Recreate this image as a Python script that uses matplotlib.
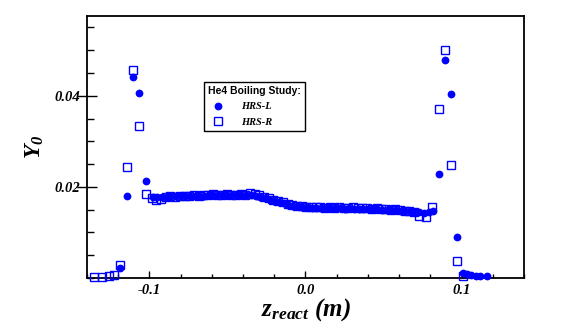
import matplotlib.pyplot as plt
from matplotlib.ticker import MultipleLocator, FixedLocator

plt.rcParams['mathtext.fontset'] = 'custom'
plt.rcParams['mathtext.it'] = 'Liberation Serif:italic:bold'
plt.rcParams['mathtext.bf'] = 'Liberation Serif:italic:bold'
plt.rcParams['mathtext.rm'] = 'Liberation Serif:italic:bold'

# HRS-L (filled circles)
z_left = [-0.1186, -0.1143, -0.1107, -0.1064, -0.1024,
          -0.098, -0.095, -0.092, -0.089, -0.086, -0.083, -0.080, -0.077, -0.074, -0.071,
          -0.068, -0.065, -0.062, -0.059, -0.056, -0.053, -0.050, -0.047, -0.044, -0.041,
          -0.038, -0.035, -0.032, -0.029, -0.026, -0.023, -0.020, -0.017, -0.014, -0.011,
          -0.008, -0.005, -0.002, 0.001, 0.004, 0.007, 0.010, 0.013, 0.016, 0.019,
          0.022, 0.025, 0.028, 0.031, 0.034, 0.037, 0.040, 0.043, 0.046, 0.049,
          0.052, 0.055, 0.058, 0.061, 0.064, 0.067, 0.070, 0.073, 0.076, 0.079, 0.082,
          0.0853, 0.0893, 0.0932, 0.0972, 0.1009, 0.1035, 0.106, 0.109, 0.112, 0.1165]
y_left = [0.0023, 0.0179, 0.0442, 0.0406, 0.0214,
          0.0177, 0.0178, 0.0178, 0.0178, 0.0179, 0.0179, 0.0179, 0.0180, 0.0180, 0.0180,
          0.0181, 0.0181, 0.0182, 0.0182, 0.0182, 0.0183, 0.0183, 0.0182, 0.0183, 0.0183,
          0.0183, 0.0182, 0.0180, 0.0178, 0.0175, 0.0172, 0.0169, 0.0166, 0.0164, 0.0161,
          0.0159, 0.0157, 0.0156, 0.0155, 0.0154, 0.0154, 0.0153, 0.0153, 0.0154, 0.0153,
          0.0153, 0.0152, 0.0153, 0.0152, 0.0152, 0.0152, 0.0151, 0.0151, 0.0151, 0.0150,
          0.0150, 0.0149, 0.0149, 0.0148, 0.0147, 0.0146, 0.0145, 0.0144, 0.0143, 0.0145, 0.0147,
          0.0229, 0.0478, 0.0404, 0.0089, 0.0012, 0.0008, 0.0006, 0.0005, 0.0004, 0.0004]

# HRS-R (open squares)
z_right = [-0.1353, -0.1303, -0.1261, -0.1224, -0.1186, -0.1143, -0.1107, -0.1064, -0.1024,
           -0.0985, -0.0955, -0.0925, -0.0895, -0.0865, -0.0835, -0.0805, -0.0775, -0.0745,
           -0.0715, -0.0685, -0.0655, -0.0625, -0.0595, -0.0565, -0.0535, -0.0505, -0.0475,
           -0.0445, -0.0415, -0.0385, -0.0355, -0.0325, -0.0295, -0.0265, -0.0235, -0.0205,
           -0.0175, -0.0145, -0.0115, -0.0085, -0.0055, -0.0025, 0.0005, 0.0035, 0.0065,
           0.0095, 0.0125, 0.0155, 0.0185, 0.0215, 0.0245, 0.0275, 0.0305, 0.0335, 0.0365,
           0.0395, 0.0425, 0.0455, 0.0485, 0.0515, 0.0545, 0.0575, 0.0605, 0.0635, 0.0665,
           0.0695, 0.0726, 0.0773, 0.0810,
           0.0853, 0.0893, 0.0934, 0.0972, 0.1009]
y_right = [0.0003, 0.0003, 0.0005, 0.0007, 0.0029, 0.0243, 0.0457, 0.0333, 0.0184,
           0.0176, 0.0172, 0.0174, 0.0178, 0.0179, 0.0177, 0.0180, 0.0181, 0.0180,
           0.0182, 0.0181, 0.0183, 0.0182, 0.0184, 0.0182, 0.0183, 0.0184, 0.0183,
           0.0183, 0.0184, 0.0183, 0.0186, 0.0185, 0.0182, 0.0178, 0.0176, 0.0172,
           0.0169, 0.0166, 0.0163, 0.0161, 0.0159, 0.0157, 0.0156, 0.0155, 0.0155,
           0.0156, 0.0154, 0.0156, 0.0154, 0.0155, 0.0153, 0.0154, 0.0155, 0.0153, 0.0154,
           0.0153, 0.0152, 0.0153, 0.0152, 0.0151, 0.0150, 0.0151, 0.0149, 0.0148, 0.0147,
           0.0145, 0.0137, 0.0134, 0.0155,
           0.0371, 0.0500, 0.0249, 0.0037, 0.0004]

blue = '#0000ff'

fig = plt.figure(figsize=(5.81, 3.28), dpi=100)
ax = fig.add_axes([0.1497, 0.1524, 0.7522, 0.7988])

ax.plot(z_left, y_left, 'o', color=blue, markersize=5.6, markeredgewidth=0,
        label='HRS-L', clip_on=False, zorder=3)
ax.plot(z_right, y_right, 's', markerfacecolor='none', markeredgecolor=blue,
        markersize=6.2, markeredgewidth=1.0, label='HRS-R', clip_on=False, zorder=4)

ax.set_xlim(-0.14, 0.14)
ax.set_ylim(0.0, 0.0575)

ax.xaxis.set_major_locator(FixedLocator([-0.1, 0.0, 0.1]))
ax.xaxis.set_minor_locator(MultipleLocator(0.02))
ax.yaxis.set_major_locator(FixedLocator([0.02, 0.04]))
ax.yaxis.set_minor_locator(MultipleLocator(0.005))
ax.set_xticklabels(['-0.1', '0.0', '0.1'])
ax.set_yticklabels(['0.02', '0.04'])

tick_font = dict(family='Liberation Serif', weight='bold', style='italic', size=10.5)
for lab in ax.get_xticklabels() + ax.get_yticklabels():
    lab.set_fontproperties(tick_font)

ax.tick_params(axis='x', which='major', direction='in', length=5, width=1, pad=4)
ax.tick_params(axis='x', which='minor', direction='in', length=3, width=1)
ax.tick_params(axis='y', which='major', direction='inout', length=14, width=1, pad=-2)
ax.tick_params(axis='y', which='minor', direction='in', length=5, width=1)
ax.tick_params(top=False, right=False, which='both')

for sp in ax.spines.values():
    sp.set_linewidth(1.3)

ax.set_xlabel(r'$z_{react}$ (m)', fontsize=18,
              family='Liberation Serif', weight='bold', style='italic', labelpad=0)
ax.set_ylabel(r'$Y_{0}$', fontsize=17, family='Liberation Serif',
              weight='bold', style='italic', labelpad=6)

leg = ax.legend(title='He4 Boiling Study:', loc='upper left',
                bbox_to_anchor=(0.267, 0.75), frameon=True, fancybox=False,
                edgecolor='black', framealpha=1, borderpad=0.4, handletextpad=1.2,
                labelspacing=0.6, borderaxespad=0,
                prop=dict(family='Liberation Serif', weight='bold', style='italic', size=7.5),
                title_fontproperties=dict(family='Liberation Sans', weight='bold', size=7.5))
leg._legend_box.align = 'left'
leg.get_frame().set_linewidth(1.0)

fig.savefig('out.png', dpi=100)
